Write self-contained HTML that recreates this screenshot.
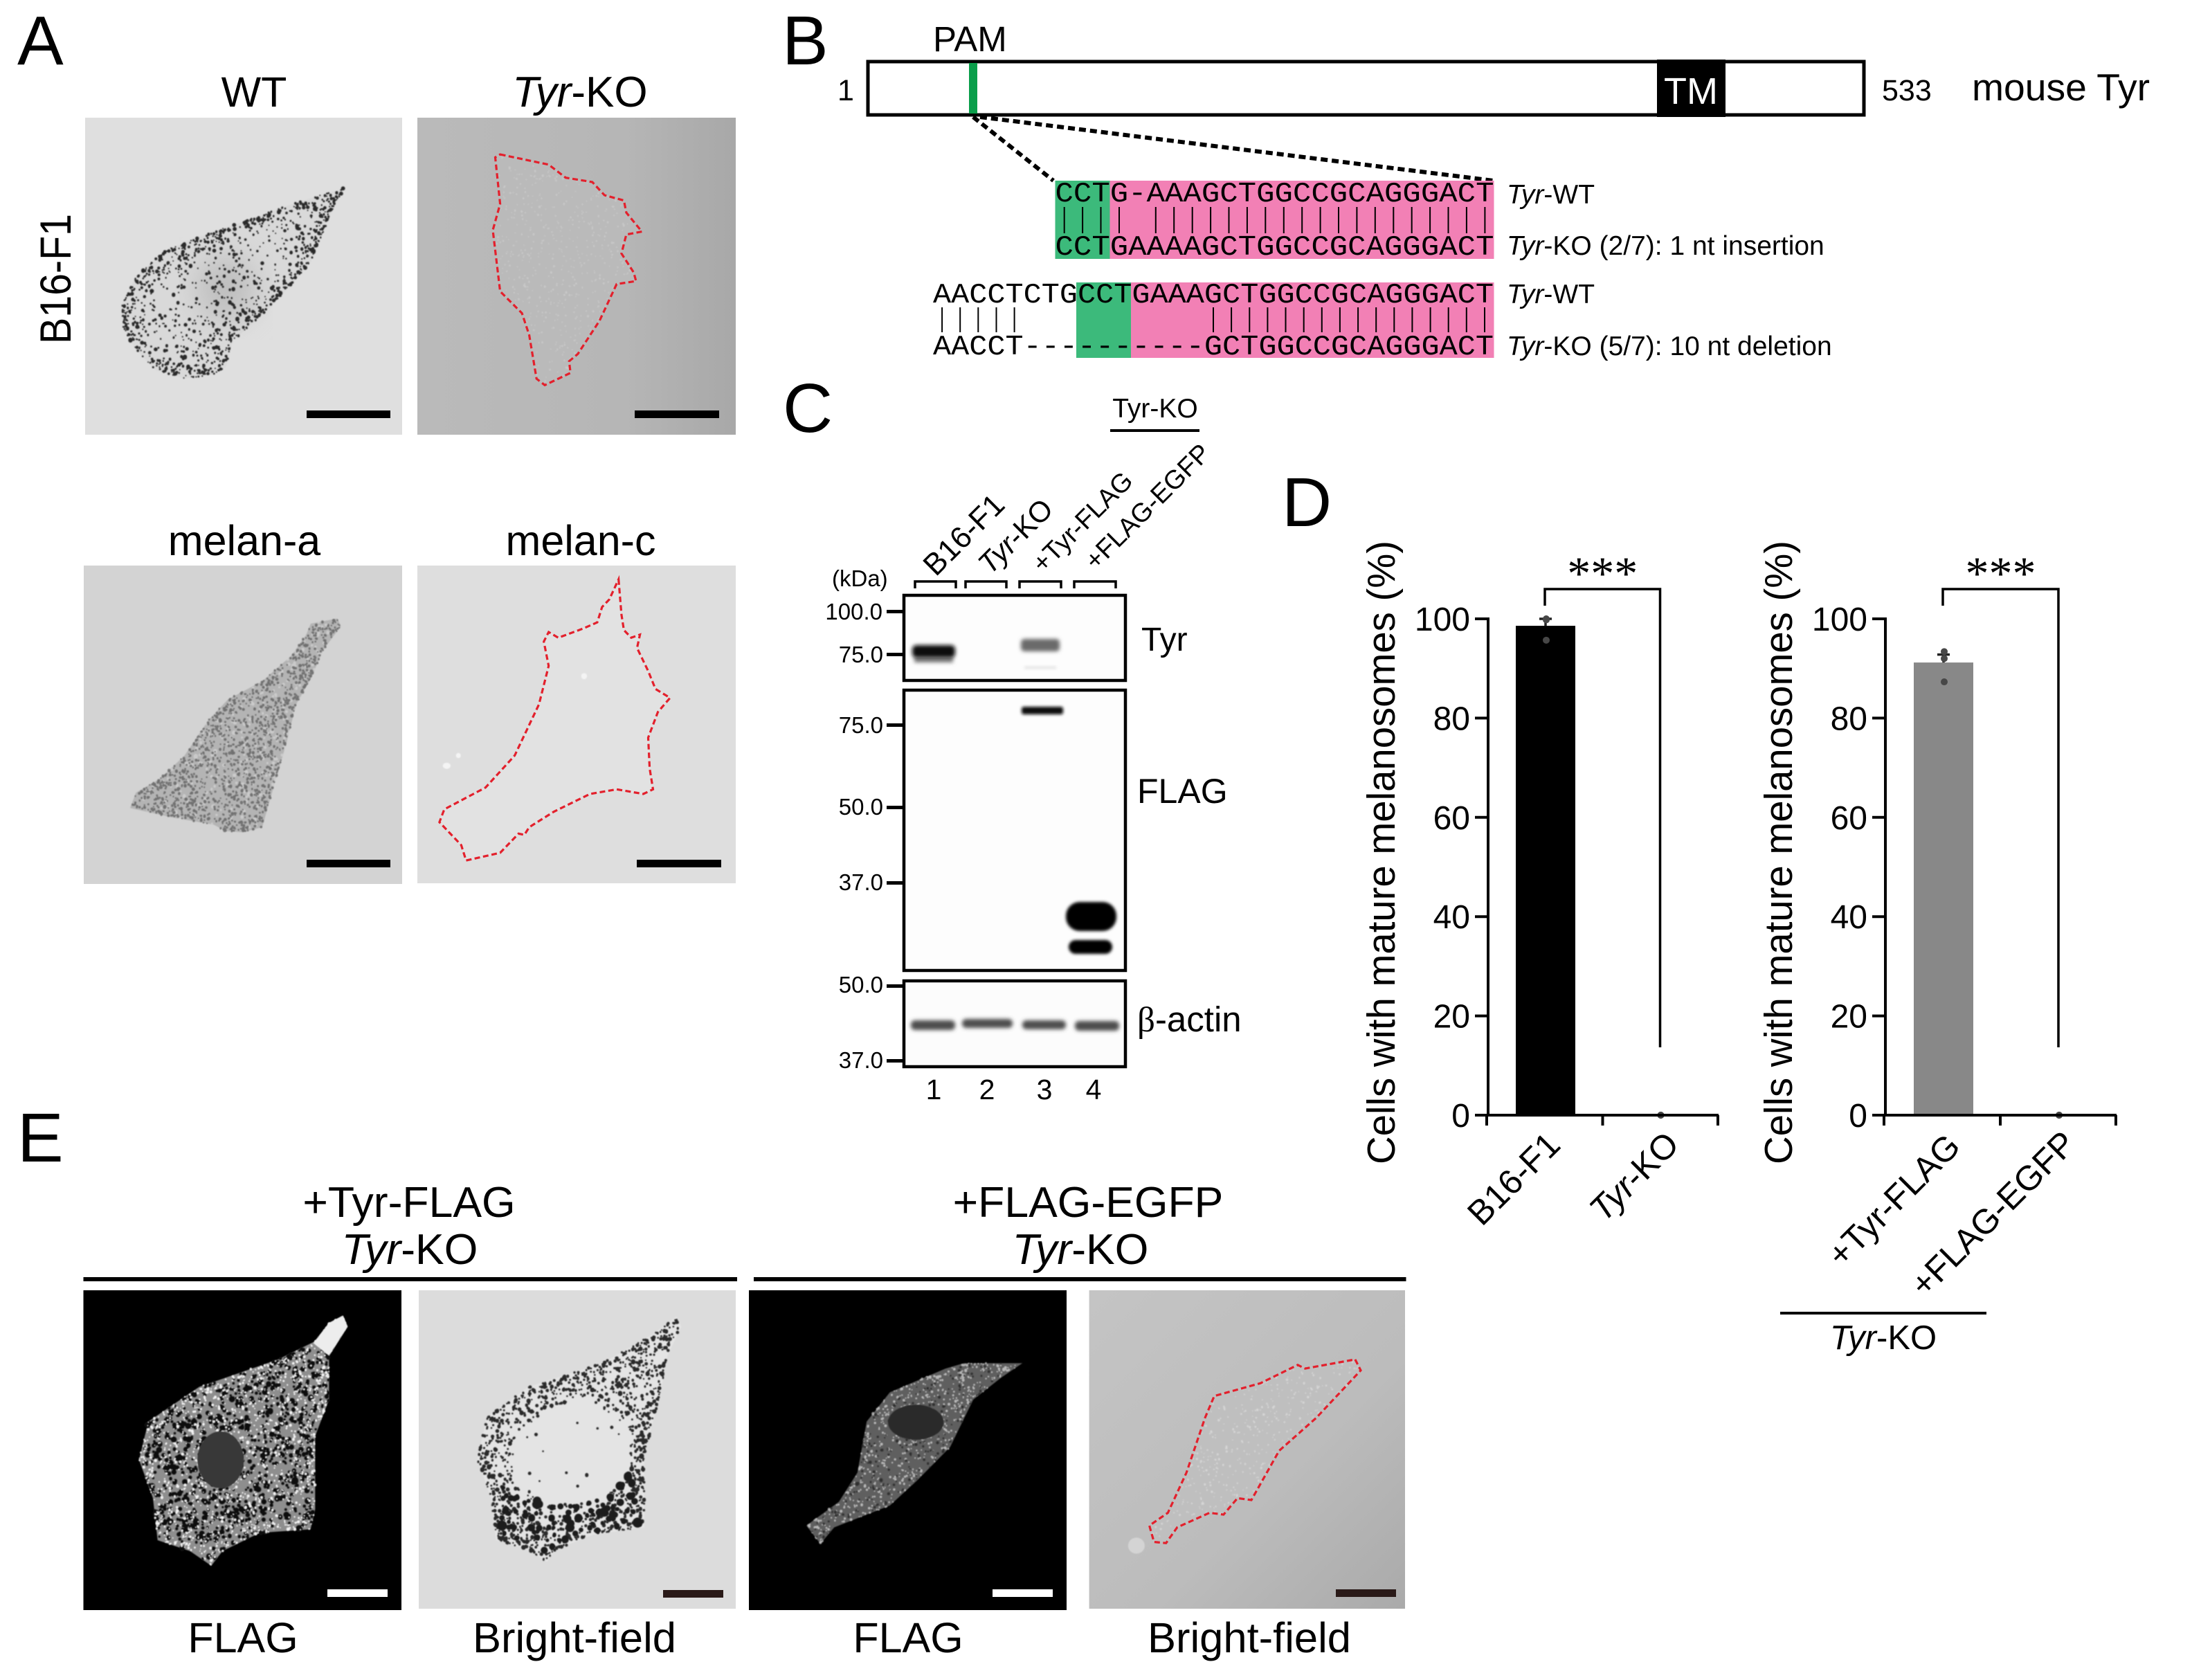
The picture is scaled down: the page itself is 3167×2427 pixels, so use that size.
<!DOCTYPE html>
<html lang="en">
<head>
<meta charset="utf-8">
<title>Tyr-KO melanocyte figure</title>
<style>
html,body{margin:0;padding:0;background:#fff}
svg{display:block}
text{font-family:"Liberation Sans",sans-serif;fill:#000}
.mono{font-family:"Liberation Mono",monospace}
.it{font-style:italic}
</style>
</head>
<body>
<svg id="fig" xmlns="http://www.w3.org/2000/svg" width="3167" height="2427" viewBox="0 0 3167 2427">
<defs>
  <linearGradient id="gKO" x1="0" y1="0" x2="1" y2="0"><stop offset="0" stop-color="#bababa"/><stop offset=".65" stop-color="#b6b6b6"/><stop offset="1" stop-color="#a8a8a8"/></linearGradient>
  <linearGradient id="gBF2" x1="0" y1="0" x2="1" y2="1"><stop offset="0" stop-color="#c4c4c4"/><stop offset=".6" stop-color="#bcbcbc"/><stop offset="1" stop-color="#aaaaaa"/></linearGradient>
  <filter id="soft" x="-5%" y="-5%" width="110%" height="110%"><feGaussianBlur stdDeviation="0.9"/></filter>
  <filter id="band" x="-20%" y="-100%" width="140%" height="300%"><feGaussianBlur stdDeviation="3"/></filter>
  <filter id="bandw" x="-20%" y="-100%" width="140%" height="300%"><feGaussianBlur stdDeviation="2"/></filter>
  <filter id="haze" x="-30%" y="-30%" width="160%" height="160%"><feGaussianBlur stdDeviation="22"/></filter>
</defs>

<!-- Panel A -->
<text x="25" y="93" font-size="100">A</text>
<text x="367" y="154" font-size="61" text-anchor="middle">WT</text>
<text x="838" y="154" font-size="62" text-anchor="middle"><tspan class="it">Tyr</tspan>-KO</text>
<text transform="translate(102,497) rotate(-90)" font-size="63" textLength="188" lengthAdjust="spacingAndGlyphs">B16-F1</text>
<text x="353" y="802" font-size="61" text-anchor="middle">melan-a</text>
<text x="839" y="802" font-size="61" text-anchor="middle">melan-c</text>
<rect x="123" y="170" width="458" height="458" fill="#dfdfdf"/>
<rect x="603" y="170" width="460" height="458" fill="url(#gKO)"/>
<rect x="121" y="817" width="460" height="460" fill="#d3d3d3"/>
<rect x="603" y="817" width="460" height="459" fill="#dedede"/>
<g id="cellsLayer"></g>
<rect x="443" y="593" width="121" height="11" fill="#000"/>
<rect x="917" y="593" width="122" height="11" fill="#000"/>
<rect x="443" y="1242" width="121" height="11" fill="#000"/>
<rect x="920" y="1242" width="122" height="11" fill="#000"/>

<!-- Panel B -->
<text x="1130" y="93" font-size="100">B</text>
<text x="1348" y="74" font-size="51">PAM</text>
<rect x="1254" y="89" width="1439" height="77" fill="#fff" stroke="#000" stroke-width="5"/>
<rect x="1400" y="91" width="12" height="73" fill="#0a9e4a"/>
<rect x="2394" y="86" width="99" height="83" fill="#000"/>
<text x="2443" y="150" font-size="54" text-anchor="middle" style="fill:#fff">TM</text>
<text x="1222" y="145" font-size="43" text-anchor="middle">1</text>
<text x="2719" y="145" font-size="43">533</text>
<text x="2849" y="145" font-size="55" textLength="257" lengthAdjust="spacingAndGlyphs">mouse Tyr</text>
<line x1="1406" y1="169" x2="1522" y2="261" stroke="#000" stroke-width="6" stroke-dasharray="10 6"/>
<line x1="1416" y1="169" x2="2158" y2="261" stroke="#000" stroke-width="6" stroke-dasharray="10 6"/>

<rect x="1524.5" y="261" width="79" height="113" fill="#3cba7b"/>
<rect x="1603.5" y="261" width="555" height="113" fill="#f280b5"/>
<rect x="1555" y="408" width="79" height="109" fill="#3cba7b"/>
<rect x="1634" y="408" width="524.5" height="109" fill="#f280b5"/>
<text class="mono" x="1524.5" y="291" font-size="41" textLength="634" lengthAdjust="spacingAndGlyphs">CCTG-AAAGCTGGCCGCAGGGACT</text>
<text class="mono" x="1524.5" y="368" font-size="41" textLength="634" lengthAdjust="spacingAndGlyphs">CCTGAAAAGCTGGCCGCAGGGACT</text>
<text class="mono" x="1348" y="437" font-size="41" textLength="810" lengthAdjust="spacingAndGlyphs">AACCTCTGCCTGAAAGCTGGCCGCAGGGACT</text>
<text class="mono" x="1348" y="512" font-size="41" textLength="810" lengthAdjust="spacingAndGlyphs">AACCT----------GCTGGCCGCAGGGACT</text>
<g id="pipes"></g>
<text x="2177" y="294" font-size="39"><tspan class="it">Tyr</tspan>-WT</text>
<text x="2177" y="368" font-size="39"><tspan class="it">Tyr</tspan>-KO (2/7): 1 nt insertion</text>
<text x="2177" y="438" font-size="39"><tspan class="it">Tyr</tspan>-WT</text>
<text x="2177" y="513" font-size="39"><tspan class="it">Tyr</tspan>-KO (5/7): 10 nt deletion</text>

<!-- Panel C -->
<text x="1131" y="624" font-size="100">C</text>
<text x="1669" y="603" font-size="39" text-anchor="middle">Tyr-KO</text>
<rect x="1604" y="620" width="129" height="4" fill="#000"/>
<text transform="translate(1454,732) rotate(-45)" font-size="44" text-anchor="end">B16-F1</text>
<text transform="translate(1524,738) rotate(-45)" font-size="42" text-anchor="end"><tspan class="it">Tyr</tspan>-KO</text>
<text transform="translate(1639,697) rotate(-45)" font-size="38" text-anchor="end">+Tyr-FLAG</text>
<text transform="translate(1751,657) rotate(-45)" font-size="38" text-anchor="end">+FLAG-EGFP</text>
<text x="1202" y="847" font-size="33">(kDa)</text>
<g fill="none" stroke="#000" stroke-width="3.5">
  <path d="M1322 850V840H1381V850"/>
  <path d="M1395 850V840H1454V850"/>
  <path d="M1473 850V840H1533V850"/>
  <path d="M1552 850V840H1612V850"/>
</g>
<rect x="1306" y="860" width="320" height="123" fill="#fdfdfd" stroke="#000" stroke-width="4.5"/>
<rect x="1306" y="997" width="320" height="405" fill="#fdfdfd" stroke="#000" stroke-width="4.5"/>
<rect x="1306" y="1417" width="320" height="124" fill="#fcfcfc" stroke="#000" stroke-width="4.5"/>
<g>
  <rect x="1321" y="949" width="56" height="8" fill="#777" filter="url(#band)"/>
  <rect x="1318" y="932" width="62" height="18" rx="6" fill="#111" filter="url(#band)"/>
  <rect x="1475" y="923" width="56" height="18" rx="5" fill="#6a6a6a" filter="url(#band)"/>
  <rect x="1480" y="963" width="46" height="3" fill="#ddd" filter="url(#bandw)"/>
  <rect x="1476" y="1021" width="60" height="11" rx="3" fill="#111" filter="url(#bandw)"/>
  <rect x="1540" y="1303" width="73" height="42" rx="20" fill="#000" filter="url(#bandw)"/>
  <rect x="1544" y="1358" width="63" height="20" rx="10" fill="#000" filter="url(#bandw)"/>
  <rect x="1316" y="1474" width="64" height="14" rx="6" fill="#4d4d4d" filter="url(#band)"/>
  <rect x="1390" y="1472" width="73" height="13" rx="6" fill="#4d4d4d" filter="url(#band)"/>
  <rect x="1477" y="1474" width="63" height="13" rx="6" fill="#4d4d4d" filter="url(#band)"/>
  <rect x="1553" y="1475" width="64" height="14" rx="6" fill="#4d4d4d" filter="url(#band)"/>
</g>
<g fill="#000">
  <rect x="1281" y="881" width="23" height="5"/>
  <rect x="1281" y="943" width="23" height="5"/>
  <rect x="1281" y="1045" width="23" height="5"/>
  <rect x="1281" y="1164" width="23" height="5"/>
  <rect x="1281" y="1273" width="23" height="5"/>
  <rect x="1281" y="1422" width="23" height="5"/>
  <rect x="1281" y="1530" width="23" height="5"/>
</g>
<g font-size="33" text-anchor="end">
  <text x="1275" y="895">100.0</text>
  <text x="1276" y="957">75.0</text>
  <text x="1276" y="1059">75.0</text>
  <text x="1276" y="1177">50.0</text>
  <text x="1276" y="1286">37.0</text>
  <text x="1276" y="1434">50.0</text>
  <text x="1276" y="1543">37.0</text>
</g>
<text x="1649" y="940" font-size="48">Tyr</text>
<text x="1643" y="1160" font-size="50">FLAG</text>
<text x="1643" y="1490" font-size="51"><tspan style="font-family:'Liberation Serif',serif">β</tspan>-actin</text>
<g font-size="41" text-anchor="middle">
  <text x="1349" y="1588">1</text>
  <text x="1426" y="1588">2</text>
  <text x="1509" y="1588">3</text>
  <text x="1580" y="1588">4</text>
</g>

<!-- Panel D -->
<text x="1852" y="760" font-size="100">D</text>
<text transform="translate(2015,1682) rotate(-90)" font-size="57" textLength="901" lengthAdjust="spacingAndGlyphs">Cells with mature melanosomes (%)</text>
<text transform="translate(2589,1682) rotate(-90)" font-size="57" textLength="901" lengthAdjust="spacingAndGlyphs">Cells with mature melanosomes (%)</text>
<g id="chartLeft"></g>
<g id="chartRight"></g>
<rect x="2572" y="1895" width="298" height="4" fill="#000"/>
<text x="2721" y="1949" font-size="49" text-anchor="middle"><tspan class="it">Tyr</tspan>-KO</text>

<!-- Panel E -->
<text x="25" y="1678" font-size="100">E</text>
<text x="591" y="1758" font-size="62.5" text-anchor="middle">+Tyr-FLAG</text>
<text x="592" y="1826" font-size="62.5" text-anchor="middle"><tspan class="it">Tyr</tspan>-KO</text>
<text x="1572" y="1758" font-size="62.5" text-anchor="middle">+FLAG-EGFP</text>
<text x="1561" y="1826" font-size="62.5" text-anchor="middle"><tspan class="it">Tyr</tspan>-KO</text>
<rect x="120.5" y="1845" width="944.5" height="6" fill="#000"/>
<rect x="1089" y="1845" width="942.5" height="6" fill="#000"/>
<rect x="120.5" y="1864" width="459.5" height="462" fill="#000"/>
<rect x="605" y="1864" width="458" height="460" fill="#dcdcdc"/>
<rect x="1082" y="1864" width="459" height="462" fill="#000"/>
<rect x="1573.6" y="1864" width="456.4" height="460" fill="url(#gBF2)"/>
<g id="cellsLayerE"></g>
<rect x="473" y="2296" width="87" height="11" fill="#fff"/>
<rect x="958" y="2297" width="87" height="11" fill="#2a1a18"/>
<rect x="1434" y="2296" width="87" height="11" fill="#fff"/>
<rect x="1930" y="2296" width="87" height="11" fill="#2a1a18"/>
<text x="351" y="2387" font-size="61" text-anchor="middle">FLAG</text>
<text x="830" y="2387" font-size="61.5" text-anchor="middle">Bright-field</text>
<text x="1312" y="2387" font-size="61" text-anchor="middle">FLAG</text>
<text x="1805" y="2387" font-size="61.5" text-anchor="middle">Bright-field</text>
</svg>

<script>
/* ---------- Chart data (panel D) ---------- */
const yTickValues = [0, 20, 40, 60, 80, 100];
const categoriesLeft = ['B16-F1', 'Tyr-KO'];
const meansLeft = [98.6, 0];
const upperErrorLeft = [100, 0];
const pointsLeftA = [100, 99.8, 95.7];
const pointsLeftB = [0, 0, 0];
const categoriesRight = ['+Tyr-FLAG', '+FLAG-EGFP'];
const meansRight = [91.2, 0];
const upperErrorRight = [92.8, 0];
const pointsRightA = [93.4, 92, 87.3];
const pointsRightB = [0, 0, 0];
const significanceLabel = '***';

const NS = 'http://www.w3.org/2000/svg';
function mk(tag, parent, attrs) {
  const el = document.createElementNS(NS, tag);
  for (const k in attrs) el.setAttribute(k, attrs[k]);
  parent.appendChild(el);
  return el;
}
function yScale(v) { return 1611 - 7.17 * v; }

function drawChart(root, opts, categories, means, upper, pts) {
  const xScale = function (i) { return opts.c0 + opts.step * i; };
  const axisX = opts.axisX;
  const x0 = axisX - 2, x2 = x0 + opts.step * 2 + 2;

  means.forEach(function (m, i) {
    if (m <= 0) return;
    const bar = mk('rect', root, { x: xScale(i) - 43, y: yScale(m), width: 86, height: yScale(0) - yScale(m), fill: opts.barFill });
    
    
  });
  upper.forEach(function (u, i) {
    if (u <= means[i]) return;
    const cx = xScale(i);
    const eb = mk('path', root, { d: 'M' + cx + ' ' + yScale(means[i]) + 'V' + yScale(u) + 'M' + (cx - 9) + ' ' + yScale(u) + 'H' + (cx + 9), stroke: opts.errFill, 'stroke-width': 3.5, fill: 'none' });
    
    
  });
  pts.forEach(function (series, i) {
    series.forEach(function (v) {
      const p = mk('circle', root, { cx: xScale(i) + (i === 0 ? 1 : 0), cy: yScale(v), r: 5, fill: '#474747' });
      
      
    });
  });

  const yAxis = mk('line', root, { x1: axisX, x2: axisX, y1: yScale(100) - 2, y2: yScale(0) + 2, stroke: '#000', 'stroke-width': 4 });
  
  
  const xAxis = mk('line', root, { x1: x0, x2: x2, y1: yScale(0), y2: yScale(0), stroke: '#000', 'stroke-width': 4 });
  
  

  yTickValues.forEach(function (v) {
    const t = mk('line', root, { x1: axisX - 19, x2: axisX, y1: yScale(v), y2: yScale(v), stroke: '#000', 'stroke-width': 4 });
    
    
    const l = mk('text', root, { x: axisX - 26, y: yScale(v) + 17, 'font-size': 48, 'text-anchor': 'end' });
    l.textContent = String(v);
    
    
  });
  [0, 1, 2].forEach(function (k) {
    const tx = x0 + opts.step * k;
    const t = mk('line', root, { x1: tx + (k === 0 ? 0 : 1), x2: tx + (k === 0 ? 0 : 1), y1: yScale(0), y2: yScale(0) + 15, stroke: '#000', 'stroke-width': 4 });
    
    
  });
  categories.forEach(function (c, i) {
    const ax = xScale(i) + opts.labelDx[i], ay = yScale(0) + opts.labelDy[i];
    const l = mk('text', root, { transform: 'translate(' + ax + ',' + ay + ') rotate(-45)', 'font-size': 50, 'text-anchor': 'end' });
    if (c === 'Tyr-KO') {
      const it = mk('tspan', l, { 'class': 'it' });
      it.textContent = 'Tyr';
      l.appendChild(document.createTextNode('-KO'));
    } else {
      l.textContent = c;
    }
    
    
  });

  const bx0 = xScale(0) - 1, bx1 = xScale(1) - 1, by = 851;
  const br = mk('path', root, { d: 'M' + bx0 + ' 875V' + by + 'H' + bx1 + 'V1513', fill: 'none', stroke: '#000', 'stroke-width': 3.5 });
  
  
  const st = mk('text', root, { x: (bx0 + bx1) / 2, y: 851, 'font-size': 68, 'text-anchor': 'middle', style: "font-family:'Liberation Serif',serif" });
  st.textContent = significanceLabel;
  
  
}

drawChart(document.getElementById('chartLeft'),
  { axisX: 2150, c0: 2233, step: 166.5, barFill: '#000', errFill: '#222', labelDx: [24, 29], labelDy: [46, 45] },
  categoriesLeft, meansLeft, upperErrorLeft, [pointsLeftA, pointsLeftB]);
drawChart(document.getElementById('chartRight'),
  { axisX: 2724, c0: 2808, step: 167, barFill: '#888888', errFill: '#222', labelDx: [27, 27], labelDy: [48, 44] },
  categoriesRight, meansRight, upperErrorRight, [pointsRightA, pointsRightB]);

/* ---------- Alignment match marks (panel B) ---------- */
const pipesG = document.getElementById('pipes');
function pipeRow(x0, w, n, skip, y1, y2, name) {
  let d = '';
  for (let i = 0; i < n; i++) {
    if (skip(i)) continue;
    const x = x0 + w * (i + 0.5);
    d += 'M' + x.toFixed(1) + ' ' + y1 + 'V' + y2;
  }
  const p = mk('path', pipesG, { d: d, stroke: '#000', 'stroke-width': 2, fill: 'none' });
  
  
}
pipeRow(1524.5, 26.42, 24, function (i) { return i === 4; }, 299, 337, 'match-marks-insertion');
pipeRow(1348, 26.13, 31, function (i) { return i > 4 && i < 15; }, 444, 480, 'match-marks-deletion');

/* ---------- Procedural micrograph textures ---------- */
const Z1 = { ox: 0, oy: 0, sx: 1.4255, sy: 2.376 };
const Z6 = { ox: 0, oy: 740, sx: 1.4255, sy: 2.703 };
const Z5 = { ox: 0, oy: 1600, sx: 0.7467, sy: 1.896 };
function conv(z, a) {
  return a.map(function (p) { return [z.ox + p[0] / z.sx, z.oy + p[1] / z.sy]; });
}
function rng(seed) {
  return function () {
    seed |= 0; seed = seed + 0x6D2B79F5 | 0;
    let t = Math.imul(seed ^ seed >>> 15, 1 | seed);
    t = t + Math.imul(t ^ t >>> 7, 61 | t) ^ t;
    return ((t ^ t >>> 14) >>> 0) / 4294967296;
  };
}
function inside(poly, x, y) {
  let c = false;
  for (let i = 0, j = poly.length - 1; i < poly.length; j = i++) {
    const a = poly[i], b = poly[j];
    if ((a[1] > y) !== (b[1] > y) && x < (b[0] - a[0]) * (y - a[1]) / (b[1] - a[1]) + a[0]) c = !c;
  }
  return c;
}
function edgeDist(poly, x, y) {
  let m = 1e9;
  for (let i = 0, j = poly.length - 1; i < poly.length; j = i++) {
    const a = poly[i], b = poly[j];
    const dx = b[0] - a[0], dy = b[1] - a[1];
    let t = ((x - a[0]) * dx + (y - a[1]) * dy) / (dx * dx + dy * dy || 1);
    t = Math.max(0, Math.min(1, t));
    const d = Math.hypot(x - a[0] - t * dx, y - a[1] - t * dy);
    if (d < m) m = d;
  }
  return m;
}
function polyD(poly) {
  return 'M' + poly.map(function (p) { return p[0].toFixed(1) + ' ' + p[1].toFixed(1); }).join('L') + 'Z';
}
function speckleD(poly, o) {
  const r = rng(o.seed);
  let x0 = 1e9, x1 = -1e9, y0 = 1e9, y1 = -1e9;
  poly.forEach(function (p) { x0 = Math.min(x0, p[0]); x1 = Math.max(x1, p[0]); y0 = Math.min(y0, p[1]); y1 = Math.max(y1, p[1]); });
  let d = '';
  for (let i = 0; i < o.n; i++) {
    const x = x0 + r() * (x1 - x0), y = y0 + r() * (y1 - y0);
    if (!inside(poly, x, y)) continue;
    const e = edgeDist(poly, x, y);
    let prob = o.base + o.edge * Math.exp(-e / o.scale);
    if (o.exclude && inside(o.exclude, x, y)) prob *= o.excludeFactor;
    if (r() > prob) continue;
    const rad = o.rMin + r() * r() * (o.rMax - o.rMin);
    d += 'M' + (x - rad).toFixed(1) + ' ' + y.toFixed(1) + 'a' + rad.toFixed(1) + ' ' + rad.toFixed(1) + ' 0 1 0 ' + (2 * rad).toFixed(1) + ' 0a' + rad.toFixed(1) + ' ' + rad.toFixed(1) + ' 0 1 0 ' + (-2 * rad).toFixed(1) + ' 0';
  }
  return d;
}
const layerA = document.getElementById('cellsLayer');
const layerE = document.getElementById('cellsLayerE');
function body(layer, poly, fill, name) {
  const p = mk('path', layer, { d: polyD(poly), fill: fill, filter: 'url(#soft)' });
  
  
}
function dots(layer, poly, fill, o, name) {
  const p = mk('path', layer, { d: speckleD(poly, o), fill: fill, filter: 'url(#soft)', opacity: o.op || 1 });
  
  
}
function outline(layer, poly, name) {
  const p = mk('path', layer, { d: polyD(poly), fill: 'none', stroke: '#e3202c', 'stroke-width': 3.2, 'stroke-dasharray': '8 4.5' });
  
  
}
function blob(layer, z, cx, cy, rx, ry, fill, name, filter) {
  const c = conv(z, [[cx, cy]])[0];
  const e = mk('ellipse', layer, { cx: c[0], cy: c[1], rx: rx / z.sx, ry: ry / z.sy, fill: fill, filter: filter || 'url(#soft)' });
  
  
}

/* Panel A cells */
const wtCell = conv(Z1, [[710,645],[690,700],[665,800],[640,900],[610,960],[560,1050],[480,1170],[465,1260],[440,1285],[380,1300],[320,1270],[280,1200],[252,1120],[252,1040],[280,950],[340,860],[430,800],[520,750],[575,715],[640,680]]);
body(layerA, wtCell, '#d9d9d9', 'wt-cell-body');
blob(layerA, Z1, 465, 990, 60, 110, '#bdbdbd', 'wt-cell-center', 'url(#haze)');
dots(layerA, wtCell, '#2a2a2a', { seed: 11, n: 9000, base: 0.1, edge: 0.75, scale: 12, rMin: 1, rMax: 3.2 }, 'wt-melanosomes');

const koCell = conv(Z1, [[1030,530],[1130,565],[1165,610],[1220,625],[1245,670],[1285,688],[1290,730],[1322,795],[1290,805],[1280,870],[1305,935],[1310,965],[1270,975],[1235,1100],[1190,1215],[1172,1240],[1175,1280],[1122,1322],[1105,1300],[1090,1150],[1075,1075],[1030,1000],[1015,790],[1030,700],[1020,540]]);
body(layerA, koCell, '#bababa', 'tyr-ko-cell-body');
dots(layerA, koCell, '#d2d2d2', { seed: 13, n: 2500, base: 0.35, edge: 0, scale: 10, rMin: 0.8, rMax: 1.6, op: 0.6 }, 'tyr-ko-cell-texture');
outline(layerA, koCell, 'tyr-ko-cell-outline');

const maCell = conv(Z6, [[695,415],[702,445],[665,540],[640,650],[610,750],[590,900],[555,1130],[540,1230],[500,1250],[465,1245],[440,1220],[350,1190],[268,1155],[280,1095],[330,1040],[380,950],[430,810],[470,730],[540,660],[600,560],[630,480],[640,435]]);
body(layerA, maCell, '#b4b4b4', 'melan-a-cell-body');
dots(layerA, maCell, '#d4d4d4', { seed: 17, n: 2800, base: 0.3, edge: 0, scale: 10, rMin: 1.5, rMax: 3.5, op: 0.7 }, 'melan-a-cell-highlights');
dots(layerA, maCell, '#5a5a5a', { seed: 19, n: 9000, base: 0.33, edge: 0.35, scale: 14, rMin: 1.1, rMax: 2.6, op: 0.75 }, 'melan-a-melanosomes');

const mcCell = conv(Z6, [[1274,262],[1280,400],[1285,460],[1300,490],[1318,478],[1312,530],[1335,620],[1350,690],[1380,725],[1355,780],[1335,880],[1338,1000],[1345,1082],[1325,1100],[1270,1082],[1215,1100],[1140,1170],[1090,1230],[1080,1260],[1068,1255],[1030,1330],[960,1360],[950,1300],[905,1210],[915,1160],[1000,1075],[1060,950],[1110,750],[1130,600],[1120,505],[1130,468],[1150,490],[1200,455],[1230,430],[1240,370],[1255,340]]);
body(layerA, mcCell, '#e2e2e2', 'melan-c-cell-body');
outline(layerA, mcCell, 'melan-c-cell-outline');
blob(layerA, Z6, 1203, 640, 6, 12, '#f4f4f4', 'melan-c-debris-1');
blob(layerA, Z6, 920, 990, 8, 12, '#f4f4f4', 'melan-c-debris-2');
blob(layerA, Z6, 944, 950, 5, 10, '#f4f4f4', 'melan-c-debris-3');

/* Panel E cells */
const f1Cell = conv(Z5, [[370,570],[375,600],[355,680],[355,800],[340,900],[340,1100],[335,1155],[280,1165],[240,1215],[228,1255],[205,1215],[170,1185],[165,1070],[150,965],[160,860],[215,765],[300,690],[340,640],[355,590]]);
body(layerE, f1Cell, '#8e8e8e', 'flag-cell-1-body');
dots(layerE, f1Cell, '#101010', { seed: 29, n: 6000, base: 0.34, edge: 0, scale: 10, rMin: 1.6, rMax: 5 }, 'flag-cell-1-holes');
dots(layerE, f1Cell, '#ffffff', { seed: 23, n: 7000, base: 0.3, edge: 0.45, scale: 12, rMin: 0.9, rMax: 2.4, op: 0.9 }, 'flag-cell-1-bright');
blob(layerE, Z5, 238, 965, 25, 78, '#383838', 'flag-cell-1-nucleus');
const f1Tip = conv(Z5, [[370,570],[375,600],[355,680],[338,645],[355,590]]);
body(layerE, f1Tip, '#ededed', 'flag-cell-1-bright-tip');

const b1Cell = conv(Z5, [[730,572],[735,600],[720,680],[712,790],[695,950],[695,1150],[640,1170],[600,1210],[590,1245],[570,1210],[535,1185],[530,1070],[515,965],[525,850],[570,765],[650,700],[705,620]]);
const b1Center = conv(Z5, [[630,790],[680,880],[680,990],[650,1075],[590,1090],[555,1020],[555,900],[590,830]]);
body(layerE, b1Cell, '#e4e4e4', 'bright-field-cell-1-body');
dots(layerE, b1Cell, '#2b2b2b', { seed: 31, n: 9000, base: 0.28, edge: 0.45, scale: 14, rMin: 1.2, rMax: 3.6, exclude: b1Center, excludeFactor: 0.03 }, 'bright-field-cell-1-melanosomes');
const b1Low = conv(Z5, [[540,1030],[590,1090],[650,1075],[680,1000],[692,1145],[640,1160],[600,1195],[590,1225],[572,1195],[540,1175]]);
dots(layerE, b1Low, '#1a1a1a', { seed: 37, n: 500, base: 0.4, edge: 0, scale: 10, rMin: 2.5, rMax: 8 }, 'bright-field-cell-1-large-melanosomes');

const f2Cell = conv(Z5, [[1103,700],[1080,740],[1050,800],[1025,930],[990,1020],[960,1090],[900,1150],[885,1195],[870,1145],[905,1080],[925,1000],[935,860],[960,780],[1020,715],[1040,700]]);
body(layerE, f2Cell, '#5e5e5e', 'flag-cell-2-body');
dots(layerE, f2Cell, '#dcdcdc', { seed: 41, n: 5000, base: 0.3, edge: 0.3, scale: 10, rMin: 1, rMax: 2.4, op: 0.7 }, 'flag-cell-2-bright');
dots(layerE, f2Cell, '#1d1d1d', { seed: 43, n: 2500, base: 0.3, edge: 0, scale: 10, rMin: 1, rMax: 2.6, op: 0.7 }, 'flag-cell-2-dark');
blob(layerE, Z5, 988, 862, 30, 48, '#2c2c2c', 'flag-cell-2-nucleus');

const b2Cell = conv(Z5, [[1462,690],[1468,720],[1420,850],[1380,940],[1350,1075],[1335,1070],[1320,1115],[1305,1110],[1270,1150],[1258,1193],[1245,1190],[1240,1145],[1260,1110],[1280,1000],[1300,850],[1310,790],[1360,755],[1400,705],[1408,715]]);
body(layerE, b2Cell, '#bfbfbf', 'bright-field-cell-2-body');
dots(layerE, b2Cell, '#dedede', { seed: 47, n: 2500, base: 0.4, edge: 0, scale: 10, rMin: 0.8, rMax: 2, op: 0.7 }, 'bright-field-cell-2-texture');
outline(layerE, b2Cell, 'bright-field-cell-2-outline');
blob(layerE, Z5, 1226, 1200, 9, 22, '#d4d4d4', 'bright-field-debris');
</script>
</body>
</html>
